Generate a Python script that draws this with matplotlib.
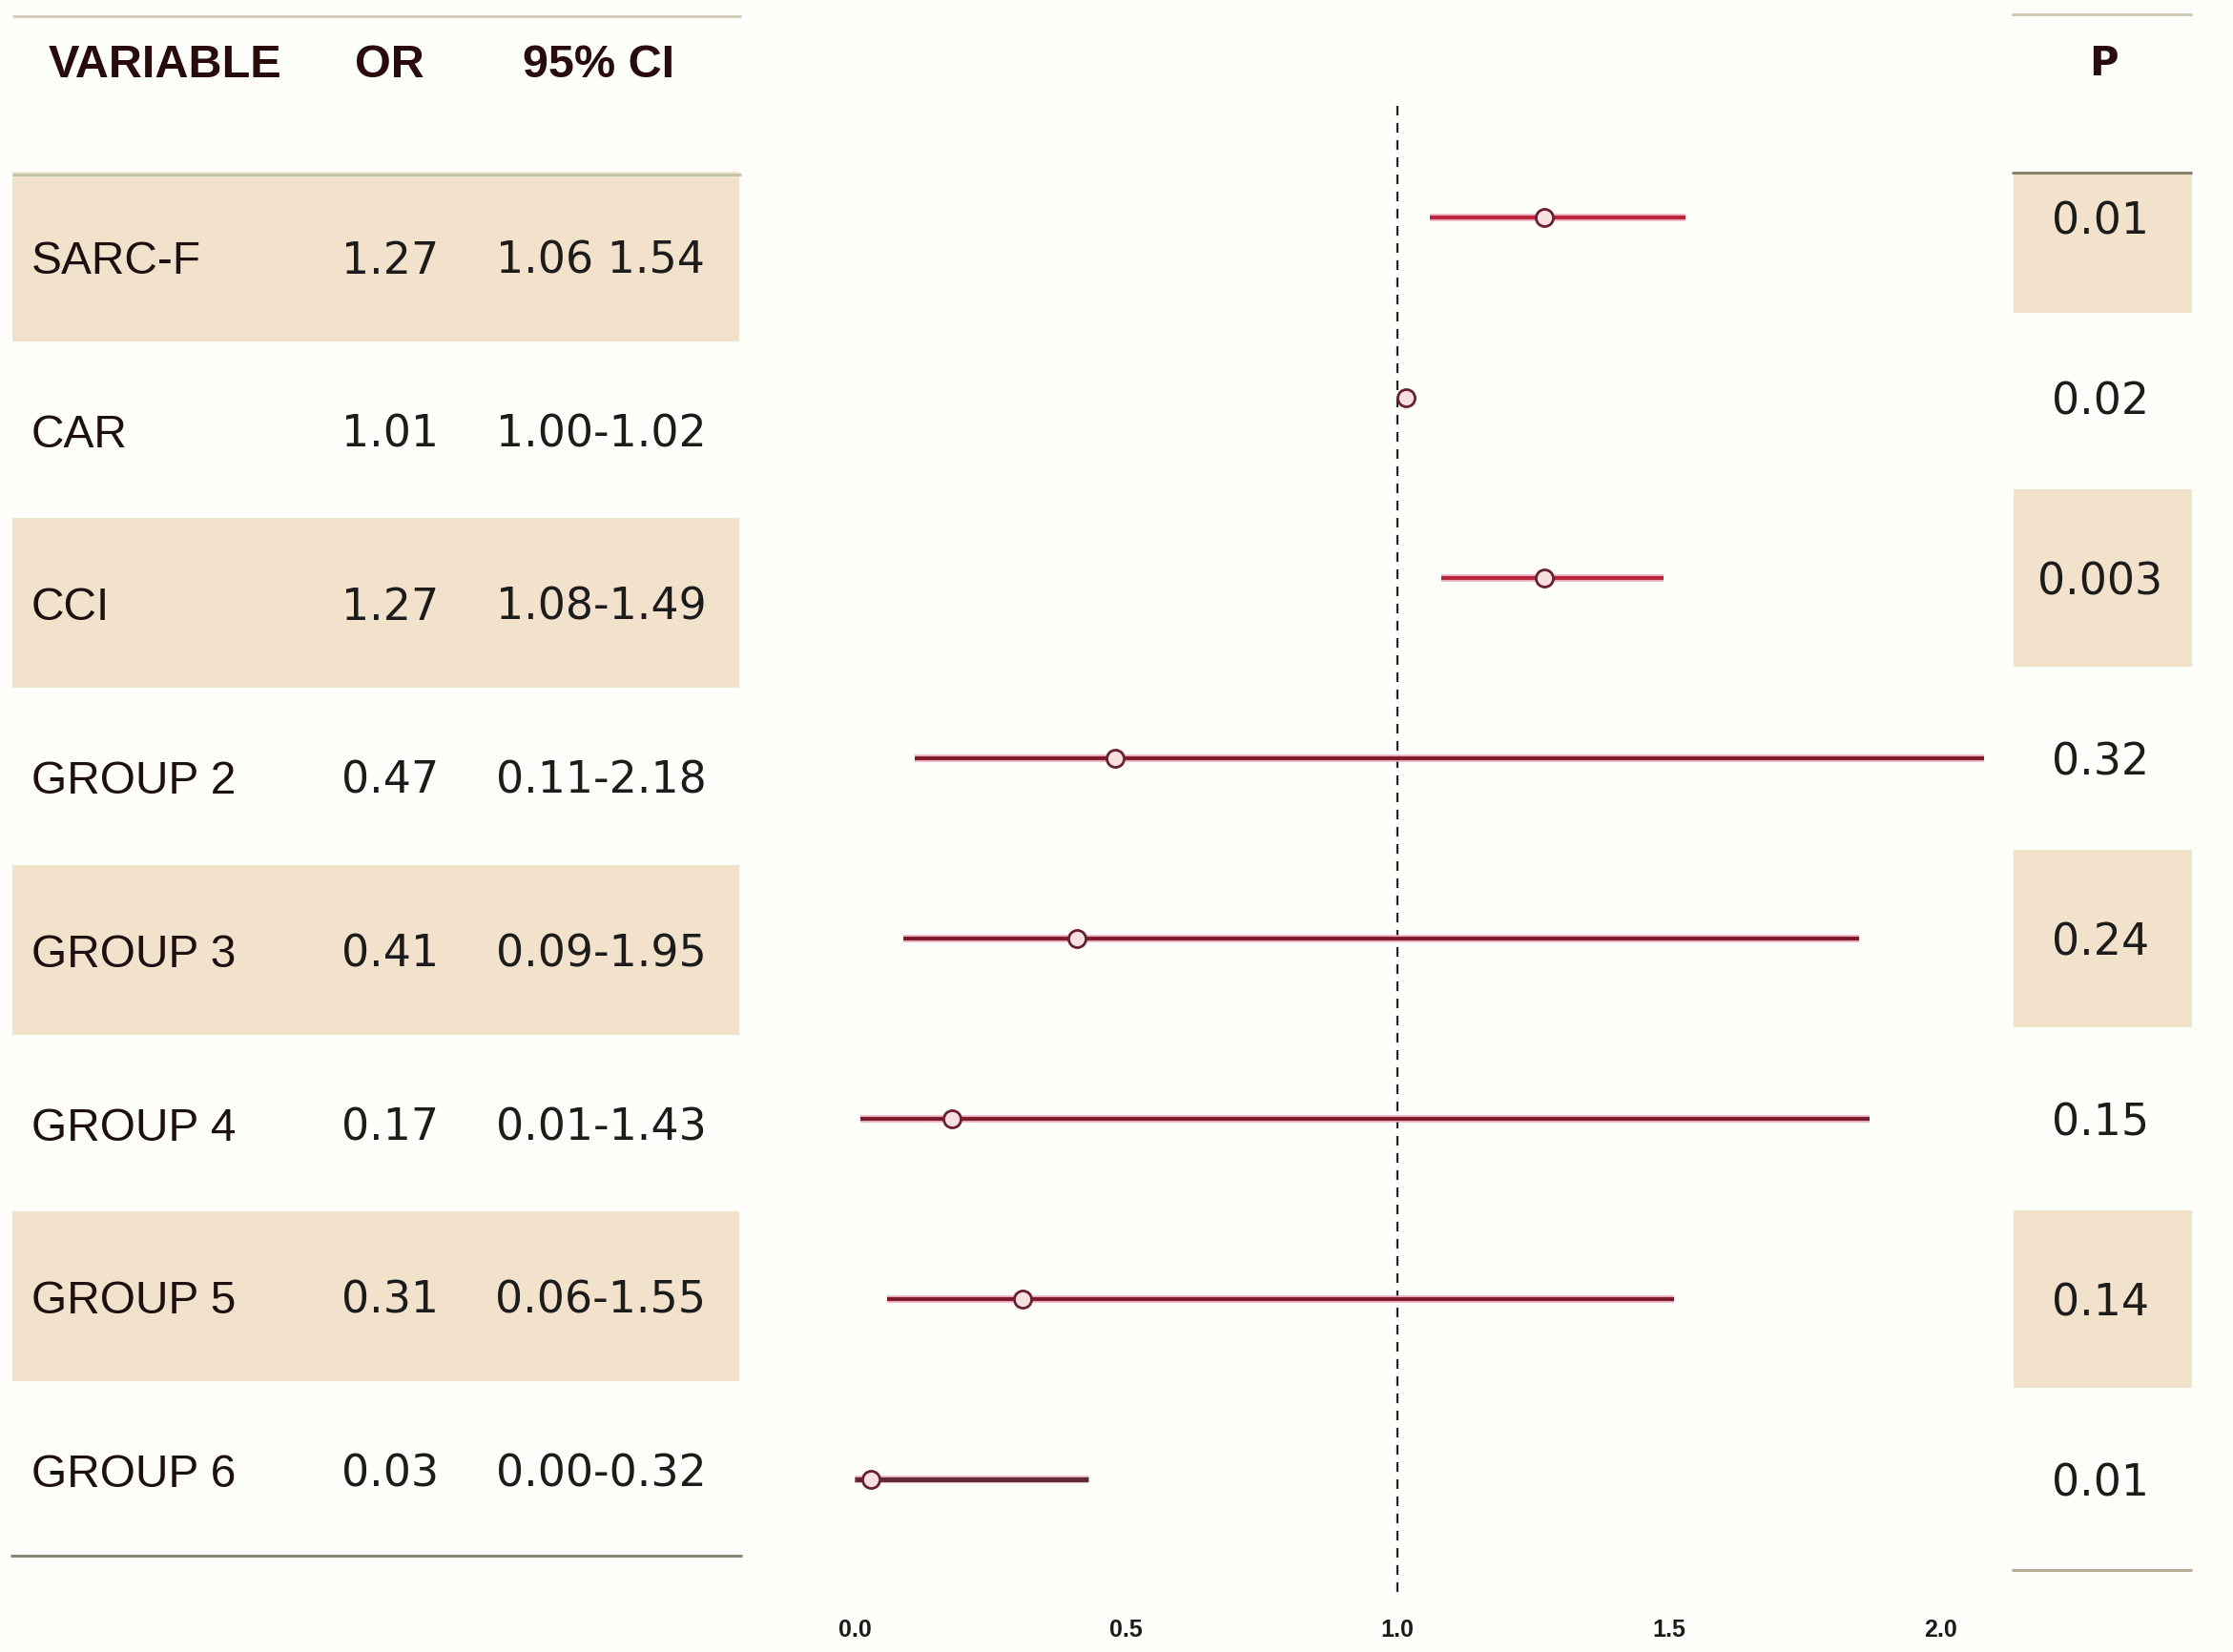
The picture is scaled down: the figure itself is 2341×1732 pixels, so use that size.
import matplotlib.pyplot as plt
from matplotlib.patches import Rectangle

# Table columns
variables = ["SARC-F", "CAR", "CCI", "GROUP 2", "GROUP 3", "GROUP 4", "GROUP 5", "GROUP 6"]
or_text = ["1.27", "1.01", "1.27", "0.47", "0.41", "0.17", "0.31", "0.03"]
ci_text = ["1.06 1.54", "1.00-1.02", "1.08-1.49", "0.11-2.18", "0.09-1.95",
           "0.01-1.43", "0.06-1.55", "0.00-0.32"]
p_text = ["0.01", "0.02", "0.003", "0.32", "0.24", "0.15", "0.14", "0.01"]

# Estimates and intervals as drawn in the forest plot
or_plot = [1.27, 1.015, 1.27, 0.48, 0.41, 0.18, 0.31, 0.03]
lo_plot = [1.06, 1.00, 1.08, 0.11, 0.09, 0.01, 0.06, 0.00]
hi_plot = [1.53, 1.02, 1.49, 2.08, 1.85, 1.87, 1.51, 0.43]
x_ticks = [0.0, 0.5, 1.0, 1.5, 2.0]

W, H = 2341, 1733
BG = "#fefefa"
BAND = "#f2e2cc"

fig = plt.figure(figsize=(W / 100, H / 100), dpi=100, facecolor=BG)

# Background layer in pixel units for the table parts
bg = fig.add_axes([0, 0, 1, 1])
bg.set_xlim(0, W)
bg.set_ylim(H, 0)
bg.axis("off")

n = len(variables)

# Left table
row_left = [270 + 181.7 * i for i in range(n)]
for i, y in enumerate(row_left):
    if i % 2 == 0:
        bg.add_patch(Rectangle((13, y - 89), 762, 178, fc=BAND, ec="none"))

bg.hlines(18, 13, 777, color="#d3cfbd", lw=2.2)
bg.hlines(184, 13, 777, color="#c3c5aa", lw=2.2)
bg.hlines(1632, 11, 778, color="#8c8677", lw=2.2)

head = dict(family=["Liberation Sans", "DejaVu Sans"], fontsize=35,
            fontweight="bold", color="#2a0b0b", va="baseline", ha="center")
bg.text(173, 81, "VARIABLE", **head)
bg.text(408, 81, "OR", **head)
bg.text(628, 81, "95% CI", **head)

for i, y in enumerate(row_left):
    bg.text(33, y + 17, variables[i], family=["Liberation Sans", "DejaVu Sans"],
            fontsize=34.5, color="#1e0f10", va="baseline", ha="left")
    bg.text(409, y + 16.5, or_text[i], family="DejaVu Sans", fontsize=33,
            color="#1c1c1c", va="baseline", ha="center")
    bg.text(630, y + 16.5, ci_text[i], family="DejaVu Sans", fontsize=33,
            color="#1c1c1c", va="baseline", ha="center")

# P column
row_f = [229 + 189 * i for i in range(n)]
for i, y in enumerate(row_f):
    if i % 2 == 0:
        top = max(y - 93, 184)
        bottom = y + 100 if i == 0 else y + 93
        bg.add_patch(Rectangle((2111, top), 187, bottom - top, fc=BAND, ec="none"))

bg.hlines(16, 2109, 2298, color="#cfc9b5", lw=2.2)
bg.hlines(182, 2109, 2298, color="#87826f", lw=2.2)
bg.hlines(1647, 2109, 2298, color="#b8ae98", lw=2.2)

bg.text(2205, 79, "P", family="DejaVu Sans", fontsize=30, fontweight="bold",
        color="#2a0b12", va="baseline", ha="center")
for i, y in enumerate(row_f):
    bg.text(2202, y + 16.5, p_text[i], family="DejaVu Sans", fontsize=33,
            color="#1c1c1c", va="baseline", ha="center")

# Forest plot axes: 0.0 at x=896 px, 569 px per unit, rows every 189 px
X0, U = 896, 569
xmin, xmax = -0.03, 2.13
top_px, bot_px = 100, 1690
ax = fig.add_axes([(X0 + xmin * U) / W, (H - bot_px) / H,
                   (xmax - xmin) * U / W, (bot_px - top_px) / H])
ax.patch.set_alpha(0)
ax.set_xlim(xmin, xmax)
ax.set_ylim((bot_px - 229) / 189, (top_px - 229) / 189)
for s in ax.spines.values():
    s.set_visible(False)
ax.set_yticks([])
ax.set_xticks(x_ticks)
ax.set_xticklabels([f"{t:.1f}" for t in x_ticks],
                   family=["Liberation Sans", "DejaVu Sans"],
                   fontweight="bold", fontsize=18, color="#1a1a1a")
ax.tick_params(axis="x", length=0, pad=5)

rows = list(range(n))
ax.vlines(1.0, -0.62, 7.63, colors="#222222", linestyles=(0, (4.5, 3.6)), lw=1.6)

line_colors = ["#b8233a", "#b8233a", "#b8233a", "#7c1a2c", "#7c1a2c",
               "#7c1a2c", "#7c1a2c", "#5e2b36"]
for i in rows:
    ax.hlines(i, lo_plot[i], hi_plot[i], colors="#eaa9bb", lw=5.4, zorder=2)
    ax.hlines(i, lo_plot[i], hi_plot[i], colors=line_colors[i],
              lw=3.6 if i == n - 1 else 2.8, zorder=3)

ax.plot(or_plot, rows, "o", ms=13, mfc="#f7e0e0", mec="#6a2030", mew=2,
        zorder=4, linestyle="none")

fig.savefig("out.png", dpi=100, facecolor=BG)
